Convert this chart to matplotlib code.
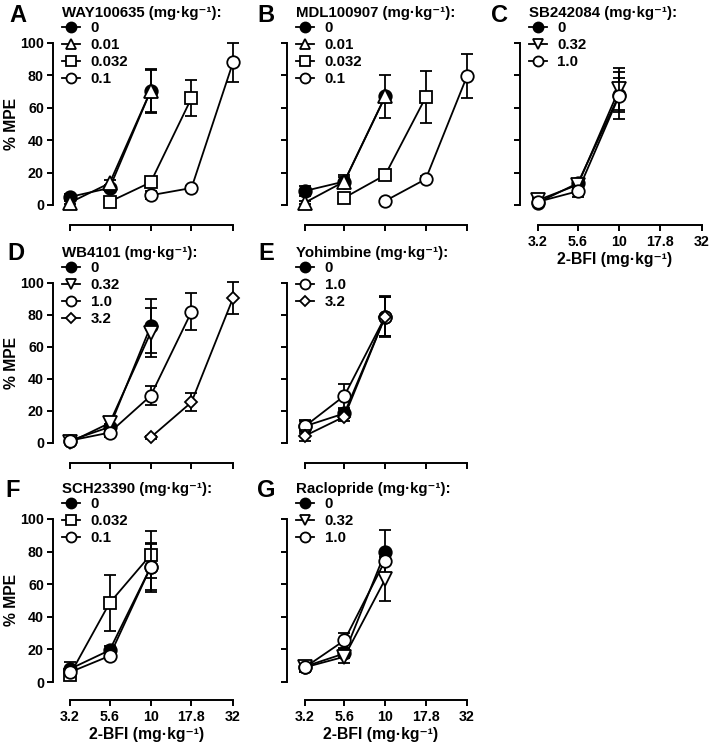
import matplotlib
matplotlib.use("Agg")
import matplotlib.pyplot as plt
from matplotlib.lines import Line2D

plt.rcParams['font.family'] = ['Liberation Sans', 'DejaVu Sans']
plt.rcParams['font.weight'] = 'bold'
plt.rcParams['axes.labelweight'] = 'bold'

# ---------------- data ----------------
doses = [3.2, 5.6, 10, 17.8, 32]
dose_labels = ["3.2", "5.6", "10", "17.8", "32"]

A_title = "WAY100635 (mg·kg⁻¹):"
A_labels = ["0", "0.01", "0.032", "0.1"]
A_x = [[3.2, 5.6, 10], [3.2, 5.6, 10], [5.6, 10, 17.8], [10, 17.8, 32]]
A_y = [[5, 10.5, 70.5], [1.5, 13.5, 70.5], [2, 14, 66], [6, 10.5, 88]]
A_e = [[1.5, 2, 13.5], [1, 2, 13], [1, 2.5, 11], [2.5, 1.5, 12]]

B_title = "MDL100907 (mg·kg⁻¹):"
B_labels = ["0", "0.01", "0.032", "0.1"]
B_x = [[3.2, 5.6, 10], [3.2, 5.6, 10], [5.6, 10, 17.8], [10, 17.8, 32]]
B_y = [[8.7, 14.5, 67], [1.5, 14.5, 67], [4.5, 18.5, 66.5], [2.5, 16, 79.5]]
B_e = [[3, 3, 1], [1, 4, 13.5], [1, 2, 16], [1, 2, 13.5]]

C_title = "SB242084 (mg·kg⁻¹):"
C_labels = ["0", "0.32", "1.0"]
C_x = [[3.2, 5.6, 10], [3.2, 5.6, 10], [3.2, 5.6, 10]]
C_y = [[1.5, 13.5, 68], [3, 12.5, 71.5], [2, 8.5, 67.5]]
C_e = [[1, 2, 10.5], [2, 2, 13], [1.5, 3.5, 14.5]]

D_title = "WB4101 (mg·kg⁻¹):"
D_labels = ["0", "0.32", "1.0", "3.2"]
D_x = [[3.2, 5.6, 10], [3.2, 5.6, 10], [3.2, 5.6, 10, 17.8], [10, 17.8, 32]]
D_y = [[1.5, 10, 73], [0.5, 12.5, 69], [1.5, 6.5, 29.5, 82], [3.5, 25.5, 90.5]]
D_e = [[1, 2, 17], [1, 3, 15.5], [1, 3, 6, 11.5], [1, 5.5, 10]]

E_title = "Yohimbine (mg·kg⁻¹):"
E_labels = ["0", "1.0", "3.2"]
E_x = [[3.2, 5.6, 10], [3.2, 5.6, 10], [3.2, 5.6, 10]]
E_y = [[10.5, 18.5, 79], [10.5, 29.5, 79], [4.5, 16.5, 79]]
E_e = [[3, 3, 12], [4, 7.5, 12], [3.5, 3, 13]]

F_title = "SCH23390 (mg·kg⁻¹):"
F_labels = ["0", "0.032", "0.1"]
F_x = [[3.2, 5.6, 10], [3.2, 5.6, 10], [3.2, 5.6, 10]]
F_y = [[8, 19.5, 70.5], [4.5, 48.5, 78], [6, 16, 70.5]]
F_e = [[4, 2.5, 15], [1, 17, 14.5], [2, 1.5, 14]]

G_title = "Raclopride (mg·kg⁻¹):"
G_labels = ["0", "0.32", "1.0"]
G_x = [[3.2, 5.6, 10], [3.2, 5.6, 10], [3.2, 5.6, 10]]
G_y = [[9.5, 17.5, 79.5], [9, 15.5, 63], [9, 25.5, 74.5]]
G_e = [[3.5, 3, 13.5], [3, 4, 13.5], [2, 4.5, 2]]

# marker style per dose label
STYLE = {
    "0": dict(marker="o", mfc="black", ms=9),
    "0.01": dict(marker="^", mfc="white", ms=9.5),
    "0.032": dict(marker="s", mfc="white", ms=8.5),
    "0.1": dict(marker="o", mfc="white", ms=9),
    "0.32": dict(marker="v", mfc="white", ms=9.5),
    "1.0": dict(marker="o", mfc="white", ms=9),
    "3.2": dict(marker="D", mfc="white", ms=6.4),
}

W, H = 709, 745
fig = plt.figure(figsize=(W / 100, H / 100), dpi=100)

FS_TICK = 10.3
FS_LEG = 10.8
FS_LAB = 11.3


def fx(px):
    return px / W


def fy(py):
    return 1 - py / H


def make_panel(letter, letter_xy, spine_x, x32_x, x3_x, y100, y0, xaxis_y,
               title, labels, xs, ys, es, ylabels, xlabels):
    dpx = x32_x - x3_x  # pixels per decade
    ppu = (y0 - y100) / 100.0
    right_px = x32_x + 8
    top_px = y100 - 4
    wpx = right_px - spine_x
    hpx = xaxis_y - top_px
    ax = fig.add_axes([fx(spine_x), fy(xaxis_y), wpx / W, hpx / H])
    ax.set_xscale("log")
    ax.set_xlim(3.2 * 10 ** (-(x3_x - spine_x) / dpx), 32 * 10 ** (8 / dpx))
    ax.set_ylim(-(xaxis_y - y0) / ppu, 100 + 4 / ppu)
    ax.patch.set_alpha(0)
    for s in ["top", "right"]:
        ax.spines[s].set_visible(False)
    ax.spines["left"].set_bounds(0, 100)
    ax.spines["bottom"].set_bounds(3.2, 32)
    for s in ["left", "bottom"]:
        ax.spines[s].set_linewidth(1.4)
    ax.set_xticks(doses)
    ax.minorticks_off()
    ax.set_yticks([0, 20, 40, 60, 80, 100])
    ax.tick_params(axis="both", width=1.4, length=4.5, labelsize=FS_TICK, pad=2)
    ax.tick_params(axis="x", pad=3)
    if xlabels:
        ax.set_xticklabels(dose_labels, fontweight="bold")
        ax.set_xlabel("2-BFI (mg·kg⁻¹)", fontsize=FS_LAB, fontweight="bold",
                      labelpad=2)
    else:
        ax.set_xticklabels([])
    if ylabels:
        ax.set_yticklabels(["0", "20", "40", "60", "80", "100"], fontweight="bold")
        ax.set_ylabel("% MPE", fontsize=FS_LAB, fontweight="bold")
        ax.yaxis.set_label_coords(-(spine_x - 12) / wpx, (xaxis_y - (y100 + y0) / 2) / hpx)
        ax.yaxis.label.set_va("center")
    else:
        ax.set_yticklabels([])

    handles = []
    for i, (lab, x, y, e) in enumerate(zip(labels, xs, ys, es)):
        st = STYLE[lab]
        ax.errorbar(x, y, yerr=e, color="black", lw=1.3, capsize=4, capthick=1.3,
                    elinewidth=1.3, marker=st["marker"], ms=st["ms"],
                    mfc=st["mfc"], mec="black", mew=1.3, zorder=3 + i,
                    clip_on=False)
        handles.append(Line2D([], [], color="black", lw=1.3, marker=st["marker"],
                              ms=st["ms"] * 0.8, mfc=st["mfc"], mec="black",
                              mew=1.3))
    leg = ax.legend(handles, labels, title=title, loc="upper left",
                    bbox_to_anchor=(fx(spine_x + 9), fy(y100 - 37)),
                    bbox_transform=fig.transFigure, frameon=False,
                    fontsize=FS_LEG, title_fontsize=FS_LEG,
                    handlelength=1.2, handletextpad=0.7, labelspacing=0.2,
                    borderpad=0, borderaxespad=0, alignment="left")
    leg.get_title().set_fontweight("bold")
    # tighten the gap between title and first row slightly
    leg._legend_box.sep = 1
    for t in leg.get_texts():
        t.set_fontweight("bold")
    fig.text(fx(letter_xy[0]), fy(letter_xy[1]), letter, fontsize=17,
             fontweight="bold", ha="left", va="top")
    return ax


cols = [(53, 70, 233), (287, 305, 467), (520, 538, 702)]
rows = [(43, 205, 225), (283, 443, 463), (519, 682, 700)]

make_panel("A", (9, 4), cols[0][0], cols[0][2], cols[0][1], *rows[0],
           A_title, A_labels, A_x, A_y, A_e, True, False)
make_panel("B", (257, 4), cols[1][0], cols[1][2], cols[1][1], *rows[0],
           B_title, B_labels, B_x, B_y, B_e, False, False)
make_panel("C", (491, 4), cols[2][0], cols[2][2], cols[2][1], *rows[0],
           C_title, C_labels, C_x, C_y, C_e, False, True)
make_panel("D", (7, 242), cols[0][0], cols[0][2], cols[0][1], *rows[1],
           D_title, D_labels, D_x, D_y, D_e, True, False)
make_panel("E", (258, 242), cols[1][0], cols[1][2], cols[1][1], *rows[1],
           E_title, E_labels, E_x, E_y, E_e, False, False)
make_panel("F", (5, 479), cols[0][0], cols[0][2], cols[0][1], *rows[2],
           F_title, F_labels, F_x, F_y, F_e, True, True)
make_panel("G", (257, 479), cols[1][0], cols[1][2], cols[1][1], *rows[2],
           G_title, G_labels, G_x, G_y, G_e, False, True)

fig.savefig("out.png", dpi=100)
